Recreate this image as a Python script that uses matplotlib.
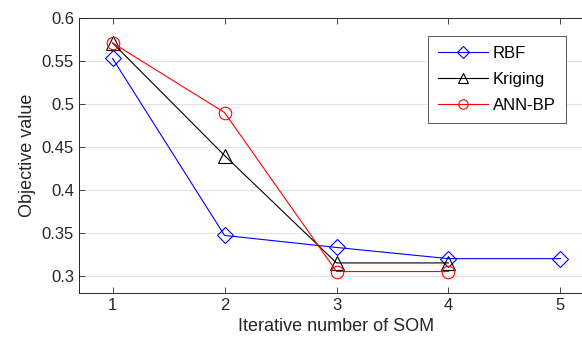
import matplotlib
matplotlib.use('Agg')
import matplotlib.pyplot as plt

plt.rcParams['font.family'] = ['Liberation Sans', 'DejaVu Sans']

# data
iters_rbf = [1, 2, 3, 4, 5]
rbf = [0.553, 0.347, 0.333, 0.320, 0.320]
iters_krig = [1, 2, 3, 4]
kriging = [0.571, 0.440, 0.315, 0.315]
iters_ann = [1, 2, 3, 4]
ann_bp = [0.571, 0.490, 0.305, 0.305]

xticks = [1, 2, 3, 4, 5]
yticks = [0.3, 0.35, 0.4, 0.45, 0.5, 0.55, 0.6]
ytick_labels = ['0.3', '0.35', '0.4', '0.45', '0.5', '0.55', '0.6']

fig = plt.figure(figsize=(5.82, 3.47), dpi=100)
ax = fig.add_axes([0.1357, 0.1556, 0.885, 0.7925])

ax.plot(iters_rbf, rbf, color='#0000ff', lw=0.8, marker='D', ms=8,
        mfc='none', mec='#0000ff', mew=0.8, label='RBF')
ax.plot(iters_krig, kriging, color='black', lw=0.8, marker='^', ms=10,
        mfc='none', mec='black', mew=0.8, label='Kriging')
ax.plot(iters_ann, ann_bp, color='#ff0000', lw=0.8, marker='o', ms=9,
        mfc='none', mec='#ff0000', mew=0.8, label='ANN-BP')

ax.set_xlim(0.7, 5.3)
ax.set_ylim(0.28, 0.6)
ax.set_xticks(xticks)
ax.set_yticks(yticks)
ax.set_yticklabels(ytick_labels)
ax.yaxis.grid(True, color='#e3e3e3', lw=0.8)
ax.set_axisbelow(True)

ax.tick_params(direction='in', top=True, right=True, length=4,
               labelsize=12, colors='#262626', width=0.6)
for s in ax.spines.values():
    s.set_color('#262626')
    s.set_linewidth(0.7)

ax.set_xlabel('Iterative number of SOM', fontsize=13, color='#262626')
ax.set_ylabel('Objective value', fontsize=13, color='#262626')

# legend placed in figure coords (axes run past the right edge)
leg = ax.legend(loc='upper left', bbox_to_anchor=(0.735, 0.896),
                bbox_transform=fig.transFigure, markerscale=0.75,
                fontsize=12, handlelength=3.0, handletextpad=0.3,
                frameon=True, fancybox=False, framealpha=1,
                edgecolor='#555555', borderpad=0.6, labelspacing=0.65,
                borderaxespad=0)
leg.get_frame().set_linewidth(0.7)

fig.savefig('out.png', dpi=100)
